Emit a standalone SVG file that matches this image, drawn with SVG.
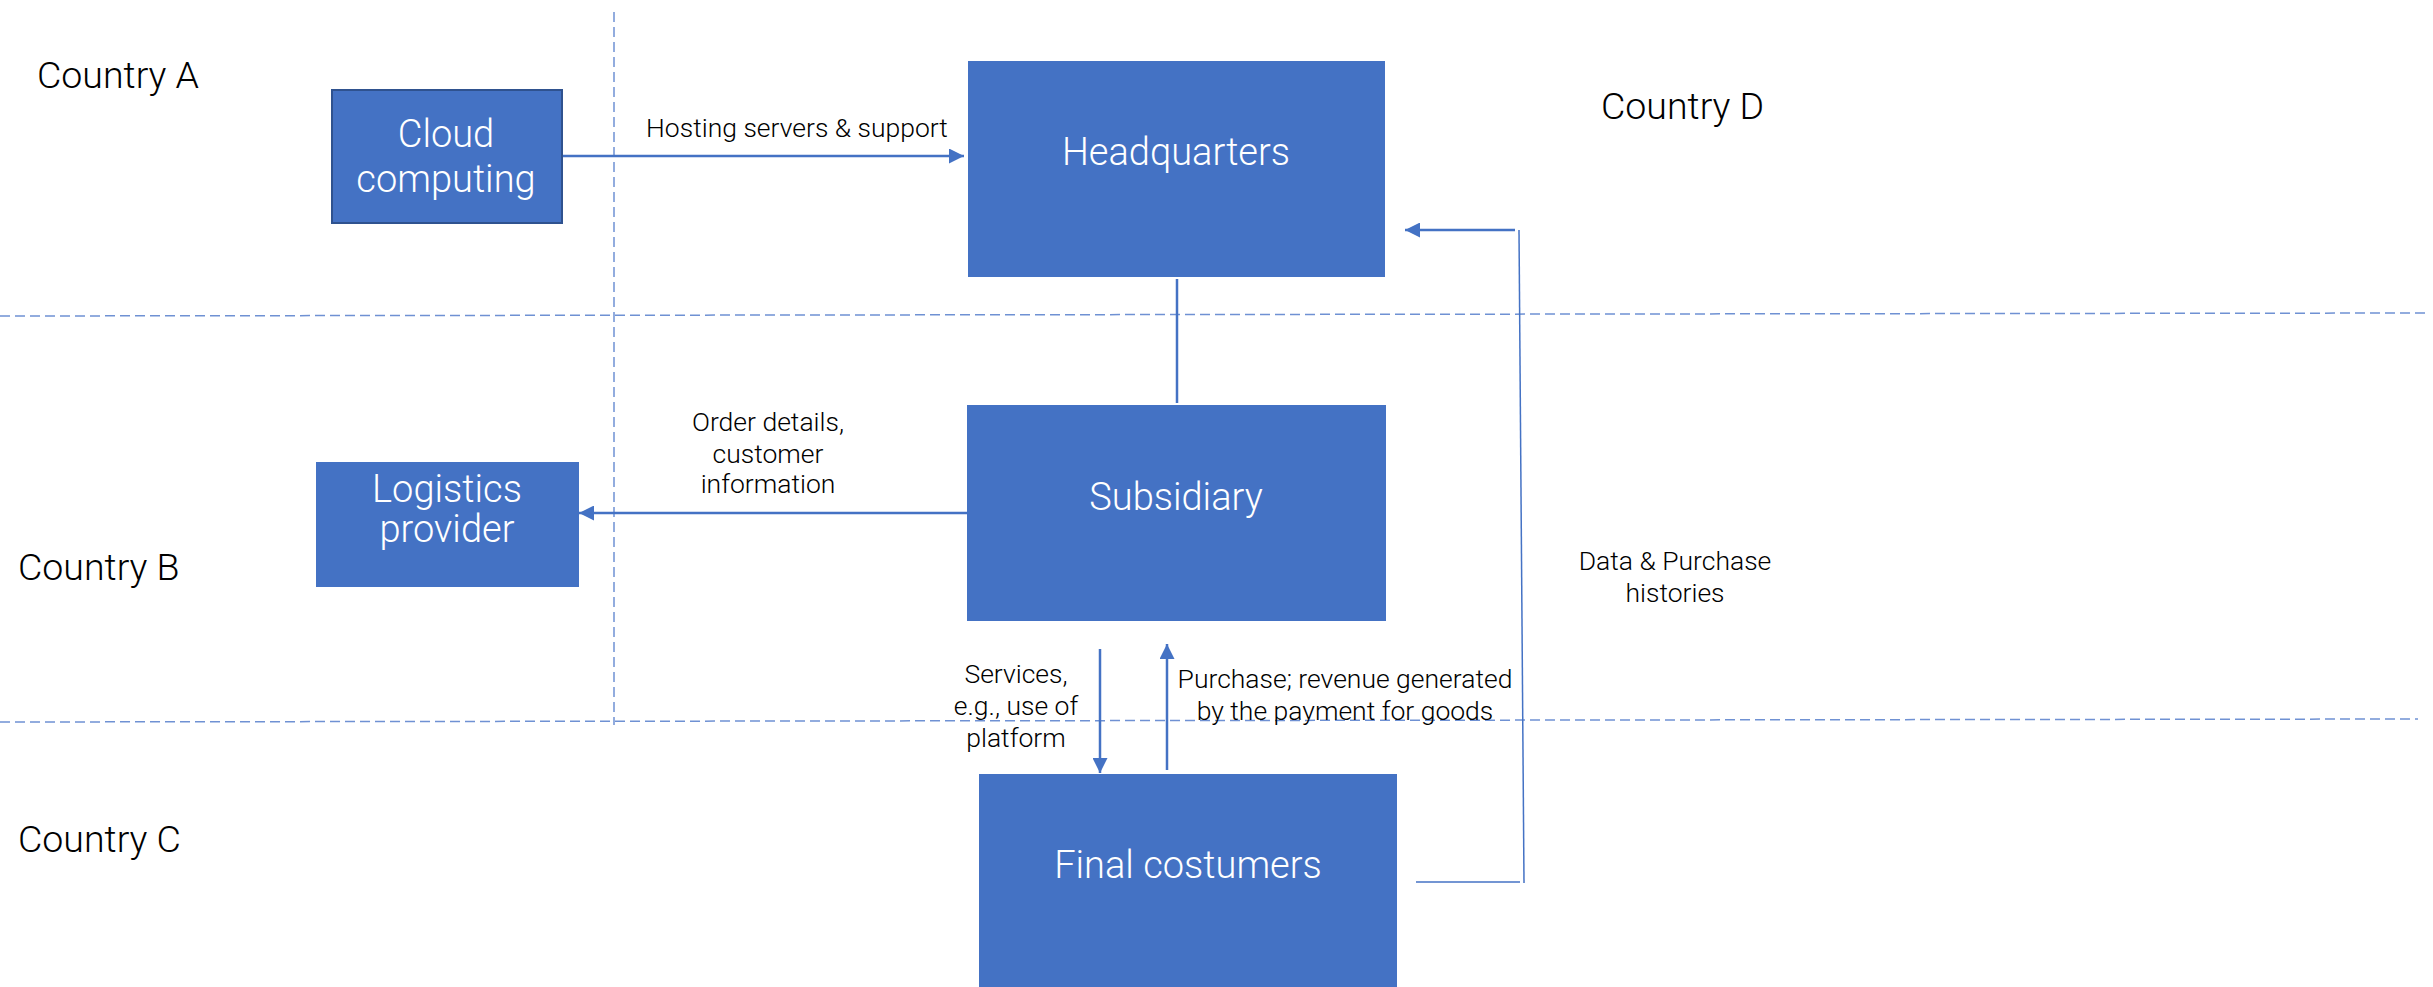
<svg xmlns="http://www.w3.org/2000/svg" width="2433" height="987" viewBox="0 0 2433 987">
<style>
.box{fill:#4472C4;}
.nt{font-family:Roboto,"Liberation Sans",sans-serif;font-weight:300;font-size:38px;fill:#FFFFFF;text-anchor:middle;}
.lbl{font-family:Roboto,"Liberation Sans",sans-serif;font-weight:300;font-size:26.5px;fill:#000000;text-anchor:middle;}
.cty{font-family:Roboto,"Liberation Sans",sans-serif;font-weight:300;font-size:37.5px;fill:#000000;}
.dash{stroke:#6F91D3;stroke-width:1.5;stroke-dasharray:10 5;fill:none;}
.arr{stroke:#4472C4;stroke-width:2.5;fill:none;marker-end:url(#ah);}
.thin{stroke:#4472C4;stroke-width:1.5;fill:none;}
.conn{stroke:#4472C4;stroke-width:2.5;fill:none;}
</style>
<defs>
<marker id="ah" viewBox="0 0 15 15" refX="15" refY="7.5" markerWidth="15" markerHeight="15" markerUnits="userSpaceOnUse" orient="auto">
<path d="M0,0 L15,7.5 L0,15 z" fill="#4472C4"/>
</marker>
</defs>
<rect width="2433" height="987" fill="#FFFFFF"/>
<g id="borders">
<line class="dash" x1="0" y1="316" x2="2428" y2="313"/>
<line class="dash" x1="0" y1="722" x2="2418" y2="719"/>
<line class="dash" x1="614" y1="12" x2="614" y2="725"/>
</g>
<g id="countries">
<text class="cty" x="37" y="88">Country A</text>
<text class="cty" x="18" y="580">Country B</text>
<text class="cty" x="18" y="852">Country C</text>
<text class="cty" x="1601" y="119">Country D</text>
</g>
<g id="connectors">
<line class="arr" x1="562" y1="156" x2="964" y2="156"/>
<text class="lbl" x="797" y="137">Hosting servers &amp; support</text>
<line class="conn" x1="1177" y1="279" x2="1177" y2="403"/>
<line class="arr" x1="968" y1="513" x2="579" y2="513"/>
<text class="lbl" x="768" y="431">Order details,</text>
<text class="lbl" x="768" y="463">customer</text>
<text class="lbl" x="768" y="493">information</text>
<line class="arr" x1="1100" y1="649" x2="1100" y2="773"/>
<text class="lbl" x="1016" y="683">Services,</text>
<text class="lbl" x="1016" y="715">e.g., use of</text>
<text class="lbl" x="1016" y="747">platform</text>
<line class="arr" x1="1167" y1="770" x2="1167" y2="644"/>
<text class="lbl" x="1345" y="688">Purchase; revenue generated</text>
<text class="lbl" x="1345" y="720">by the payment for goods</text>
<line class="thin" x1="1416" y1="882" x2="1520" y2="882"/>
<line class="thin" x1="1524" y1="883" x2="1519" y2="230"/>
<line class="arr" x1="1515" y1="230" x2="1405" y2="230"/>
<text class="lbl" x="1675" y="570">Data &amp; Purchase</text>
<text class="lbl" x="1675" y="602">histories</text>
</g>
<g id="cloud">
<rect class="box" x="332" y="90" width="230" height="133" stroke="#2F528F" stroke-width="2"/>
<text class="nt" x="446" y="147">Cloud</text>
<text class="nt" x="446" y="192">computing</text>
</g>
<g id="hq">
<rect class="box" x="968" y="61" width="417" height="216"/>
<text class="nt" x="1176" y="165">Headquarters</text>
</g>
<g id="logistics">
<rect class="box" x="316" y="462" width="263" height="125"/>
<text class="nt" x="447" y="502">Logistics</text>
<text class="nt" x="447" y="542">provider</text>
</g>
<g id="subsidiary">
<rect class="box" x="967" y="405" width="419" height="216"/>
<text class="nt" x="1176" y="510">Subsidiary</text>
</g>
<g id="customers">
<rect class="box" x="979" y="774" width="418" height="213"/>
<text class="nt" x="1188" y="878">Final costumers</text>
</g>
</svg>
